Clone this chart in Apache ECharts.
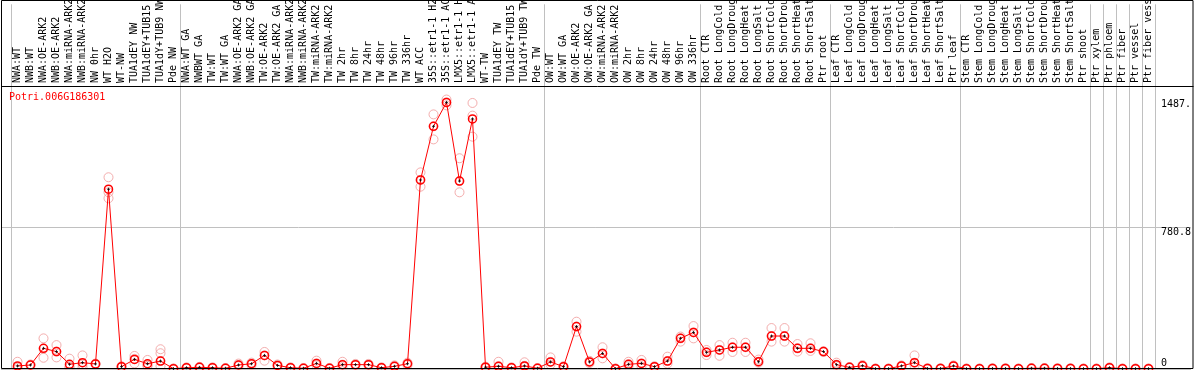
<!DOCTYPE html>
<html><head><meta charset="utf-8">
<script src="https://cdn.jsdelivr.net/npm/echarts@6/dist/echarts.min.js"></script>
<style>html,body{margin:0;padding:0;background:#fff}#c{width:1194px;height:370px}</style>
</head><body><div id="c"></div>
<script>
const geneTitle = 'Potri.006G186301';

const categories = [
  'NWA:WT','NWB:WT','NWA:OE-ARK2','NWB:OE-ARK2','NWA:miRNA-ARK2','NWB:miRNA-ARK2','NW 0hr','WT H2O','WT-NW','TUA1dEY NW','TUA1dEY+TUB15','TUA1dY+TUB9 NW','Pde NW',
  'NWA:WT GA','NWBWT GA','TW:WT','TW:WT GA','NWA:OE-ARK2 GA','NWB:OE-ARK2 GA','TW:OE-ARK2','TW:OE-ARK2 GA','NWA:miRNA-ARK2','NWB:miRNA-ARK2','TW:miRNA-ARK2','TW:miRNA-ARK2','TW 2hr','TW 8hr','TW 24hr','TW 48hr','TW 96hr','TW 336hr','WT ACC','35S::etr1-1 H2','35S::etr1-1 AC','LMX5::etr1-1 H','LMX5::etr1-1 A','WT-TW','TUA1dEY TW','TUA1dEY+TUB15','TUA1dY+TUB9 TW','Pde TW',
  'OW:WT','OW:WT GA','OW:OE-ARK2','OW:OE-ARK2 GA','OW:miRNA-ARK2','OW:miRNA-ARK2','OW 2hr','OW 8hr','OW 24hr','OW 48hr','OW 96hr','OW 336hr',
  'Root CTR','Root LongCold','Root LongDroug','Root LongHeat','Root LongSalt','Root ShortCold','Root ShortDrou','Root ShortHeat','Root ShortSalt','Ptr root',
  'Leaf CTR','Leaf LongCold','Leaf LongDroug','Leaf LongHeat','Leaf LongSalt','Leaf ShortCold','Leaf ShortDrou','Leaf ShortHeat','Leaf ShortSalt','Ptr leaf',
  'Stem CTR','Stem LongCold','Stem LongDroug','Stem LongHeat','Stem LongSalt','Stem ShortCold','Stem ShortDrou','Stem ShortHeat','Stem ShortSalt','Ptr shoot',
  'Ptr xylem','Ptr phloem','Ptr fiber','Ptr vessel','Ptr fiber vess'
];

const groupSizes = [13, 28, 12, 10, 10, 10, 1, 1, 1, 1, 1];

const meanValues = [
  17, 22, 114, 96, 26, 35, 28, 992, 13, 53, 29, 44, 2,
  7, 9, 7, 4, 22, 29, 75, 20, 7, 4, 31, 4, 24, 24, 24, 7, 15, 29, 1043, 1339, 1471, 1037, 1380, 10, 15, 7, 17, 4,
  39, 13, 234, 39, 86, 2, 26, 31, 13, 44, 169, 202,
  92, 105, 120, 120, 40, 182, 182, 114, 114, 96,
  24, 9, 18, 2, 2, 17, 35, 3, 3, 17,
  2, 2, 3, 3, 2, 4, 4, 3, 3, 2,
  2, 7, 2, 2, 2
];

const replicates = [
  [40,10,5],[25,20,22],[169,112,62],[132,96,64],[57,15,8],[75,25,8],[30,28,26],[1058,975,942],[13,12,15],[72,56,31],[50,20,17],[109,87,44,15],[3,2,1],
  [9,7,5],[12,9,7],[9,7,5],[5,4,3],[30,22,15],[35,29,22],[94,75,46],[25,20,15],[9,7,5],[5,4,3],[46,31,20],[6,4,2],[40,24,10],[28,24,20],[28,24,20],[9,7,5],[20,15,10],[35,29,22],
  [1085,1043,1006],[1405,1339,1267],[1487,1471,1455],[1163,1037,975],[1468,1398,1282],[13,10,7],[40,15,10],[9,7,5],[37,17,10],[5,4,3],
  [64,39,25],[15,13,10],[261,234,206],[45,39,33],[120,86,59],[3,2,1],[40,26,15],[50,31,15],[15,13,10],[68,44,30],[179,169,151],[237,202,169],
  [105,92,77],[132,105,73],[145,120,94],[145,120,94],[52,40,35],[226,182,151],[226,182,151],[138,114,96],[142,114,100],[98,96,94],
  [35,24,15],[11,9,7],[22,18,14],[3,2,1],[3,2,1],[20,17,14],[75,35,20],[4,3,2],[4,3,2],[20,17,14],
  [3,2,1],[3,2,1],[4,3,2],[4,3,2],[3,2,1],[5,4,3],[5,4,3],[4,3,2],[4,3,2],[3,2,1],
  [3,2,1],[9,7,5],[3,2,1],[3,2,1],[3,2,1]
];

const yMax = 1561.6;
const yStep = 780.8;
const yTopLabels = [780.8, 1487];
const yTopLabelText = ['780.8', '1487.'];
const yZeroLabelText = '0';

// ---- derived ----
const boundaries = new Set();
let acc = 0;
boundaries.add(0);
groupSizes.forEach(s => { acc += s; boundaries.add(acc); });

const repPoints = [];
replicates.forEach((reps, i) => reps.forEach(v => repPoints.push([i, v])));
const centerPoints = meanValues.map((v, i) => [i, v]);

const FONT = 'DejaVu Sans Mono';
const GRID_COLOR = '#c0c0c0';
const L = 11, R = 39;

const splitFn = (idx) => boundaries.has(idx);

const chart = echarts.init(document.getElementById('c'), null, {renderer: 'canvas'});
chart.setOption({
  animation: false,
  backgroundColor: '#fff',
  title: {
    text: geneTitle, left: 9, top: 92, padding: 0,
    textStyle: {color: '#ff0000', fontFamily: FONT, fontSize: 10, fontWeight: 'normal'}
  },
  grid: [
    {left: L, right: R, top: 0, height: 86},
    {left: L, right: R, top: 86, bottom: 1},
    {left: 1, right: 1, top: 86, bottom: 1}
  ],
  xAxis: [
    {
      type: 'category', gridIndex: 0, data: categories, boundaryGap: true, position: 'bottom',
      axisLine: {show: false}, axisTick: {show: false},
      axisLabel: {inside: true, rotate: 90, interval: 0, margin: 3, color: '#000',
        fontFamily: FONT, fontSize: 10, hideOverlap: false},
      splitLine: {show: true, interval: splitFn, lineStyle: {color: GRID_COLOR, width: 1}}
    },
    {
      type: 'category', gridIndex: 1, data: categories, boundaryGap: true,
      axisLine: {show: false}, axisTick: {show: false}, axisLabel: {show: false},
      splitLine: {show: true, interval: splitFn, lineStyle: {color: GRID_COLOR, width: 1}}
    },
    {type: 'value', gridIndex: 2, min: 0, max: 1, show: false}
  ],
  yAxis: [
    {type: 'value', gridIndex: 0, show: false},
    {type: 'value', gridIndex: 1, min: 0, max: yMax, show: false},
    {
      type: 'value', gridIndex: 2, min: 0, max: yMax, interval: yStep, position: 'right',
      axisLine: {show: false}, axisTick: {show: false},
      splitLine: {show: true, lineStyle: {color: GRID_COLOR, width: 1}},
      axisLabel: {
        inside: true, margin: 30, align: 'left', verticalAlign: 'top', color: '#000',
        fontFamily: FONT, fontSize: 10, customValues: yTopLabels,
        formatter: (v) => { const i = yTopLabels.indexOf(v); return i >= 0 ? yTopLabelText[i] : ''; }
      }
    },
    {
      type: 'value', gridIndex: 2, min: 0, max: yMax, interval: yStep, position: 'right',
      axisLine: {show: false}, axisTick: {show: false}, splitLine: {show: false},
      axisLabel: {
        inside: true, margin: 30, align: 'left', verticalAlign: 'bottom', color: '#000',
        fontFamily: FONT, fontSize: 10, customValues: [0], padding: [0, 0, 1, 0],
        formatter: () => yZeroLabelText
      }
    }
  ],
  graphic: [
    {type: 'rect', silent: true, z: 100, shape: {x: 1.5, y: 0.5, width: 1191.5, height: 368},
      style: {fill: null, stroke: '#000', lineWidth: 1}},
    {type: 'line', silent: true, z: 100, shape: {x1: 1.5, y1: 86.5, x2: 1193.5, y2: 86.5},
      style: {stroke: '#000', lineWidth: 1}}
  ],
  series: [
    {
      type: 'scatter', xAxisIndex: 1, yAxisIndex: 1, data: repPoints,
      symbol: 'circle', symbolSize: 9, z: 2,
      itemStyle: {color: 'rgba(0,0,0,0)', borderColor: '#f09a9a', borderWidth: 1}
    },
    {
      type: 'line', xAxisIndex: 1, yAxisIndex: 1, data: meanValues,
      symbol: 'circle', symbolSize: 8, showAllSymbol: true, z: 3,
      lineStyle: {color: '#ff0000', width: 1},
      itemStyle: {color: 'rgba(0,0,0,0)', borderColor: '#ff0000', borderWidth: 1.5}
    },
    {
      type: 'scatter', xAxisIndex: 1, yAxisIndex: 1, data: centerPoints,
      symbol: 'path://M0,1L2,1M1,0L1,2', symbolSize: 3, z: 4, silent: true,
      itemStyle: {color: 'rgba(0,0,0,0)', borderColor: '#000', borderWidth: 1}
    }
  ]
});
</script></body></html>
